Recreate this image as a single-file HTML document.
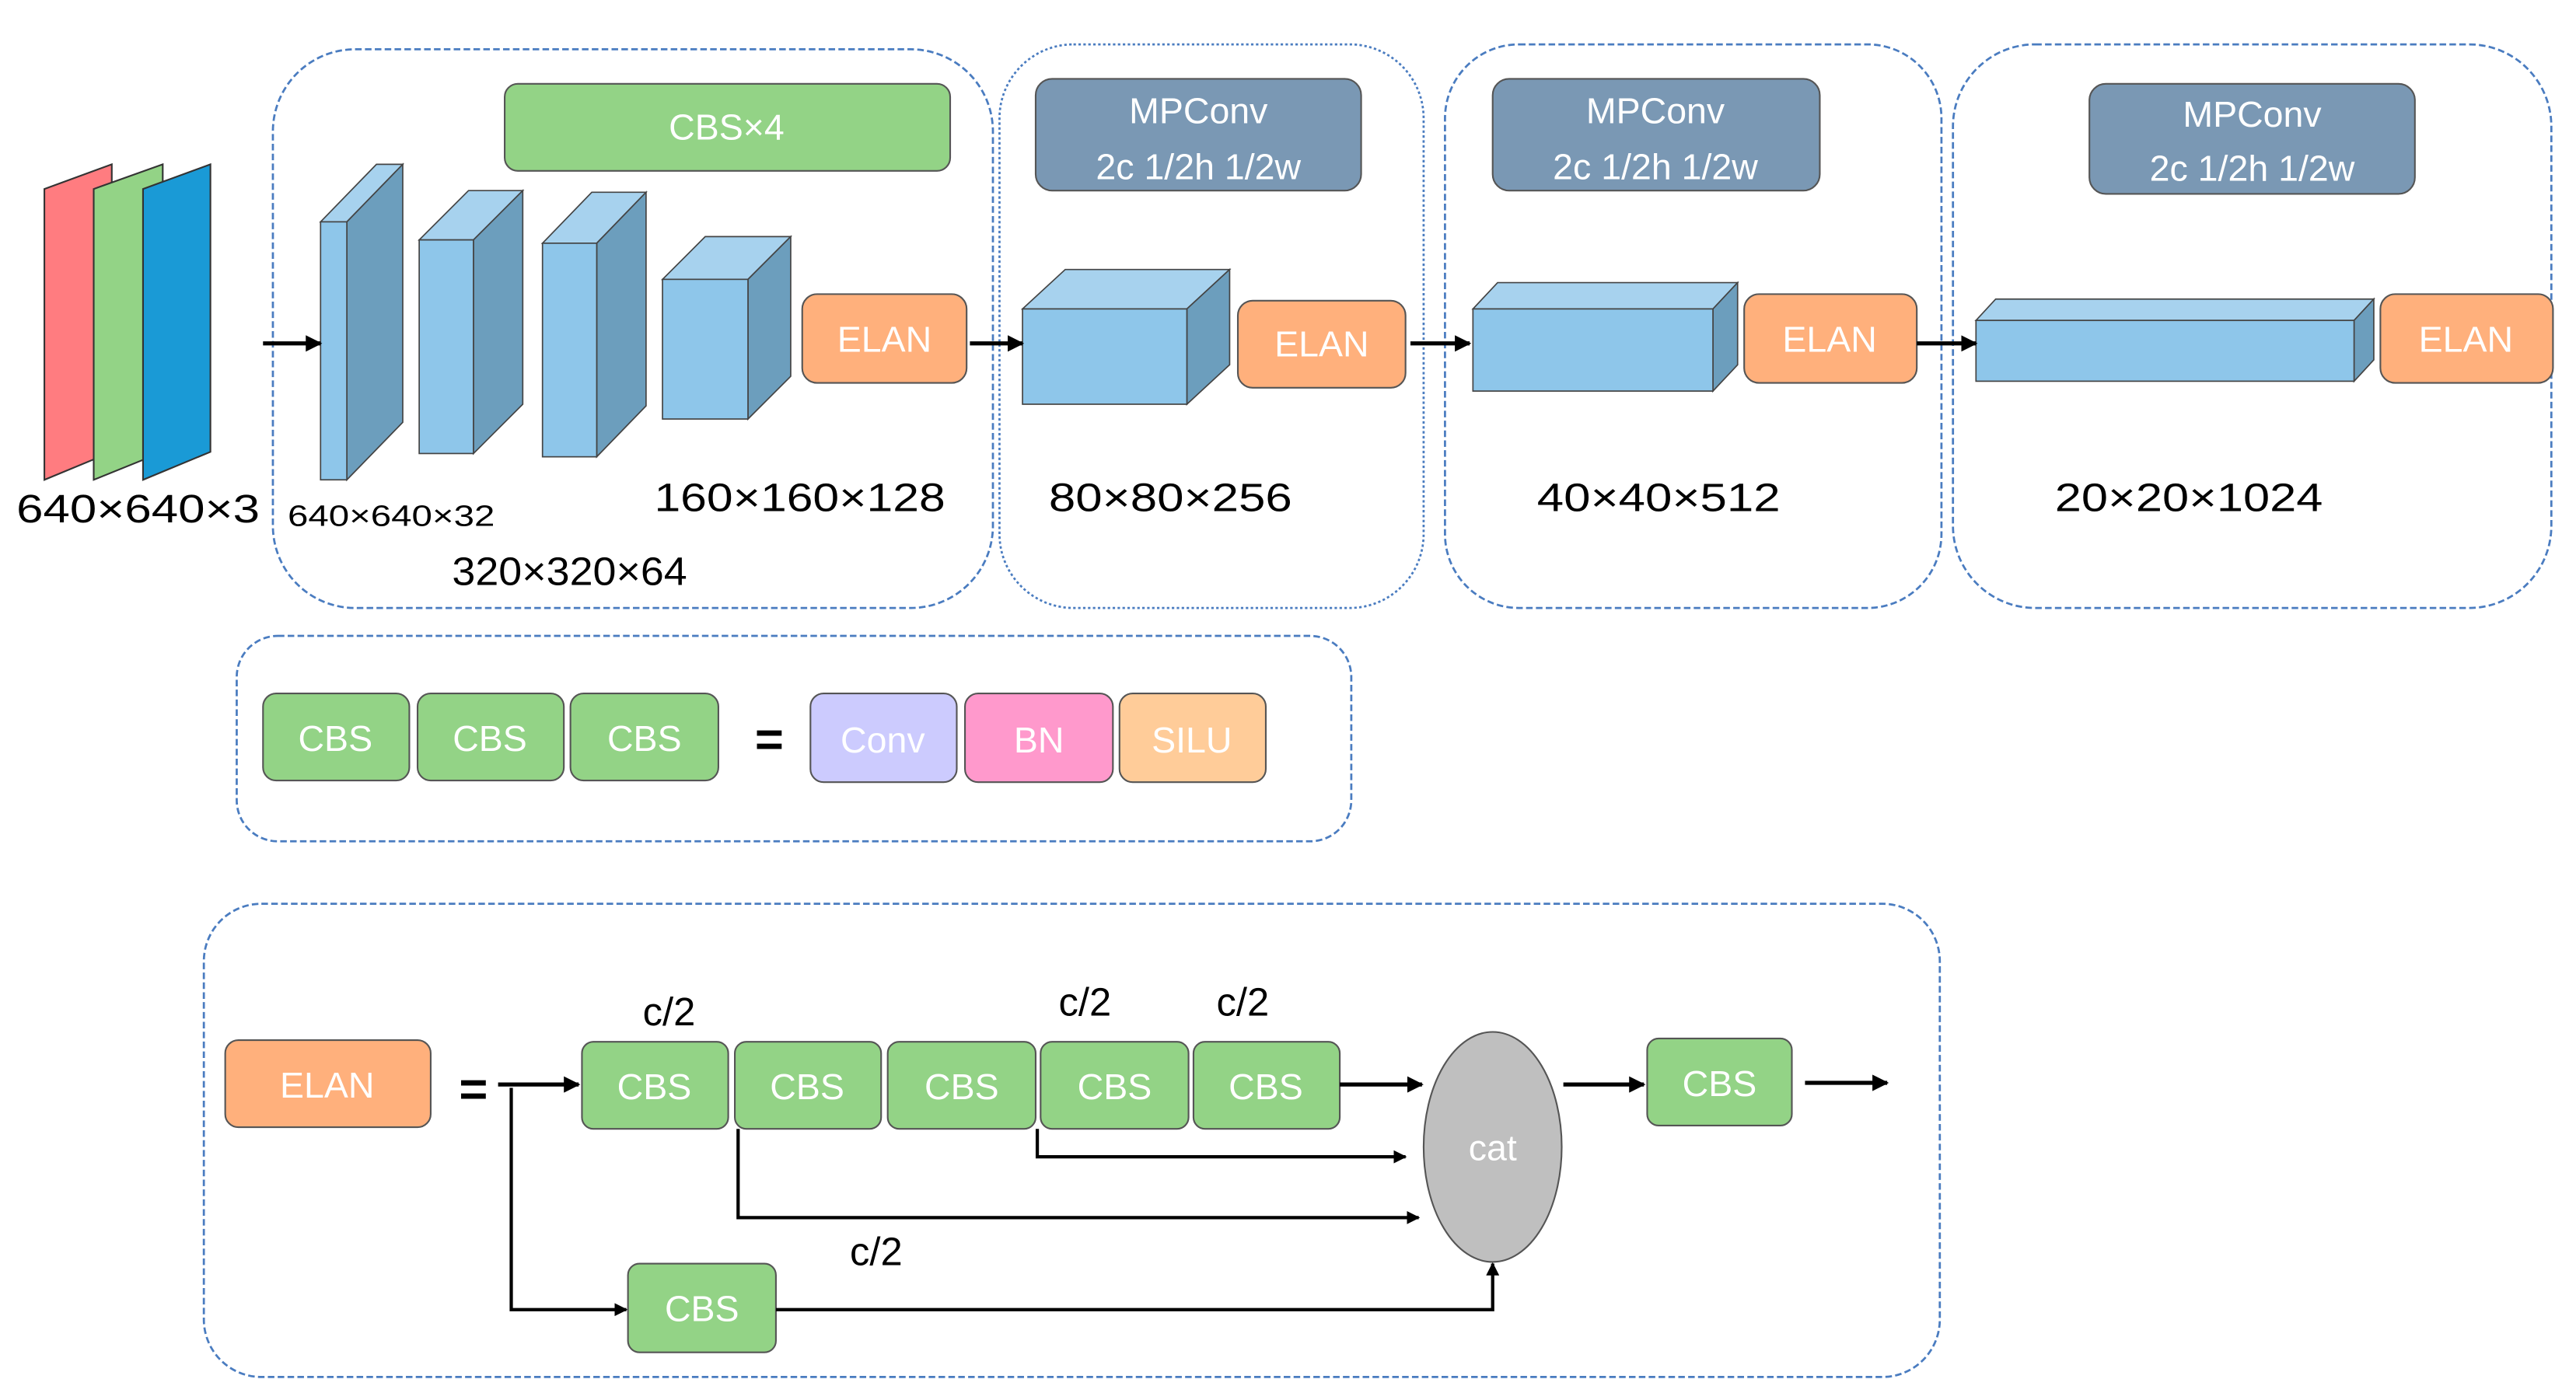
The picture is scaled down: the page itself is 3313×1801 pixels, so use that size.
<!DOCTYPE html>
<html><head><meta charset="utf-8"><style>
html,body{margin:0;padding:0;background:#fff;}
svg{display:block;}
text{font-family:"Liberation Sans",sans-serif;}
</style></head><body>
<svg width="3313" height="1801" viewBox="0 0 1567 852" preserveAspectRatio="none" xmlns="http://www.w3.org/2000/svg">
<defs>
<marker id="ah" viewBox="0 0 10 10" refX="9" refY="5" markerWidth="4" markerHeight="4" orient="auto"><path d="M0,0 L10,5 L0,10 z" fill="#000"/></marker>
</defs>
<g fill="none" stroke="#4a7cc0" stroke-width="1.3" stroke-dasharray="4,2">
<rect x="166" y="30" width="438" height="340" rx="50"/>
<rect x="608" y="27" width="258" height="343" rx="45" stroke-dasharray="1.5,1.5"/>
<rect x="879" y="27" width="302" height="343" rx="45"/>
<rect x="1188" y="27" width="364" height="343" rx="50"/>
<rect x="144" y="387" width="678" height="125" rx="25"/>
<rect x="124" y="550" width="1056" height="288" rx="35"/>
</g>
<g stroke="#333" stroke-width="1">
<polygon points="27,115 68,100 68,275 27,292" fill="#ff7c80"/>
<polygon points="57,115 99,100 99,275 57,292" fill="#93d386"/>
<polygon points="87,115 128,100 128,275 87,292" fill="#1a9ad6"/>
</g>
<g stroke="#444" stroke-width="0.8">
<polygon points="195,135 211,135 245,100 229,100" fill="#a7d2ee"/><polygon points="211,135 245,100 245,257 211,292" fill="#6c9ebd"/><rect x="195" y="135" width="16" height="157" fill="#8ec6ea"/>
<polygon points="255,146 288,146 318,116 285,116" fill="#a7d2ee"/><polygon points="288,146 318,116 318,246 288,276" fill="#6c9ebd"/><rect x="255" y="146" width="33" height="130" fill="#8ec6ea"/>
<polygon points="330,148 363,148 393,117 360,117" fill="#a7d2ee"/><polygon points="363,148 393,117 393,247 363,278" fill="#6c9ebd"/><rect x="330" y="148" width="33" height="130" fill="#8ec6ea"/>
<polygon points="403,170 455,170 481,144 429,144" fill="#a7d2ee"/><polygon points="455,170 481,144 481,229 455,255" fill="#6c9ebd"/><rect x="403" y="170" width="52" height="85" fill="#8ec6ea"/>
<polygon points="622,188 722,188 748,164 648,164" fill="#a7d2ee"/><polygon points="722,188 748,164 748,222 722,246" fill="#6c9ebd"/><rect x="622" y="188" width="100" height="58" fill="#8ec6ea"/>
<polygon points="896,188 1042,188 1057,172 911,172" fill="#a7d2ee"/><polygon points="1042,188 1057,172 1057,222 1042,238" fill="#6c9ebd"/><rect x="896" y="188" width="146" height="50" fill="#8ec6ea"/>
<polygon points="1202,195 1432,195 1444,182 1214,182" fill="#a7d2ee"/><polygon points="1432,195 1444,182 1444,219 1432,232" fill="#6c9ebd"/><rect x="1202" y="195" width="230" height="37" fill="#8ec6ea"/>
</g>
<g stroke="#555" stroke-width="1">
<rect x="307" y="51" width="271" height="53" rx="8" fill="#93d386"/>
<rect x="488" y="179" width="100" height="54" rx="9" fill="#ffb07c"/>
<rect x="753" y="183" width="102" height="53" rx="9" fill="#ffb07c"/>
<rect x="1061" y="179" width="105" height="54" rx="9" fill="#ffb07c"/>
<rect x="1448" y="179" width="105" height="54" rx="9" fill="#ffb07c"/>
<rect x="630" y="48" width="198" height="68" rx="10" fill="#7a98b4"/>
<rect x="908" y="48" width="199" height="68" rx="10" fill="#7a98b4"/>
<rect x="1271" y="51" width="198" height="67" rx="10" fill="#7a98b4"/>
<rect x="160" y="422" width="89" height="53" rx="8" fill="#93d386"/>
<rect x="254" y="422" width="89" height="53" rx="8" fill="#93d386"/>
<rect x="347" y="422" width="90" height="53" rx="8" fill="#93d386"/>
<rect x="493" y="422" width="89" height="54" rx="8" fill="#cccbfe"/>
<rect x="587" y="422" width="90" height="54" rx="8" fill="#ff99cc"/>
<rect x="681" y="422" width="89" height="54" rx="8" fill="#ffcc99"/>
<rect x="137" y="633" width="125" height="53" rx="8" fill="#ffb07c"/>
<rect x="354" y="634" width="89" height="53" rx="7" fill="#93d386"/>
<rect x="447" y="634" width="89" height="53" rx="7" fill="#93d386"/>
<rect x="540" y="634" width="90" height="53" rx="7" fill="#93d386"/>
<rect x="633" y="634" width="90" height="53" rx="7" fill="#93d386"/>
<rect x="726" y="634" width="89" height="53" rx="7" fill="#93d386"/>
<rect x="1002" y="632" width="88" height="53" rx="7" fill="#93d386"/>
<rect x="382" y="769" width="90" height="54" rx="7" fill="#93d386"/>
<ellipse cx="908" cy="698" rx="42" ry="70" fill="#bfbfbf"/>
</g>
<g fill="#fff" font-size="22" text-anchor="middle">
<text x="442" y="85">CBS×4</text>
<text x="538" y="214">ELAN</text><text x="804" y="217">ELAN</text><text x="1113" y="214">ELAN</text><text x="1500" y="214">ELAN</text>
<text x="729" y="75">MPConv</text><text x="729" y="109">2c 1/2h 1/2w</text>
<text x="1007" y="75">MPConv</text><text x="1007" y="109">2c 1/2h 1/2w</text>
<text x="1370" y="77">MPConv</text><text x="1370" y="110">2c 1/2h 1/2w</text>
<text x="204" y="457">CBS</text><text x="298" y="457">CBS</text><text x="392" y="457">CBS</text>
<text x="537" y="458">Conv</text><text x="632" y="458">BN</text><text x="725" y="458">SILU</text>
<text x="199" y="668">ELAN</text>
<text x="398" y="669">CBS</text><text x="491" y="669">CBS</text><text x="585" y="669">CBS</text><text x="678" y="669">CBS</text><text x="770" y="669">CBS</text>
<text x="1046" y="667">CBS</text><text x="427" y="804">CBS</text>
<text x="908" y="706">cat</text>
</g>
<g fill="#000" font-size="24">
<text x="10" y="318" textLength="148" lengthAdjust="spacingAndGlyphs">640×640×3</text>
<text x="175" y="320" font-size="18" textLength="126" lengthAdjust="spacingAndGlyphs">640×640×32</text>
<text x="275" y="356" textLength="143" lengthAdjust="spacingAndGlyphs">320×320×64</text>
<text x="398" y="311" textLength="177" lengthAdjust="spacingAndGlyphs">160×160×128</text>
<text x="638" y="311" textLength="148" lengthAdjust="spacingAndGlyphs">80×80×256</text>
<text x="935" y="311" textLength="148" lengthAdjust="spacingAndGlyphs">40×40×512</text>
<text x="1250" y="311" textLength="163" lengthAdjust="spacingAndGlyphs">20×20×1024</text>
<text x="407" y="624" text-anchor="middle">c/2</text>
<text x="660" y="618" text-anchor="middle">c/2</text>
<text x="756" y="618" text-anchor="middle">c/2</text>
<text x="533" y="770" text-anchor="middle">c/2</text>
<text x="468" y="460" font-size="30" font-weight="bold" text-anchor="middle">=</text>
<text x="288" y="673" font-size="30" font-weight="bold" text-anchor="middle">=</text>
</g>
<g stroke="#000" stroke-width="2.5" fill="none" marker-end="url(#ah)">
<line x1="160" y1="209" x2="195" y2="209"/>
<line x1="590" y1="209" x2="622" y2="209"/>
<line x1="858" y1="209" x2="894" y2="209"/>
<line x1="1166" y1="209" x2="1202" y2="209"/>
<line x1="303" y1="660" x2="352" y2="660"/>
<line x1="815" y1="660" x2="865" y2="660"/>
<line x1="951" y1="660" x2="1000" y2="660"/>
<line x1="1098" y1="659" x2="1148" y2="659"/>
</g>
<g stroke="#000" stroke-width="2" fill="none" marker-end="url(#ah)">
<polyline points="631,687 631,704 855,704"/>
<polyline points="449,687 449,741 863,741"/>
<polyline points="311,662 311,797 381,797"/>
<polyline points="472,797 908,797 908,769"/>
</g>
</svg>
</body></html>
